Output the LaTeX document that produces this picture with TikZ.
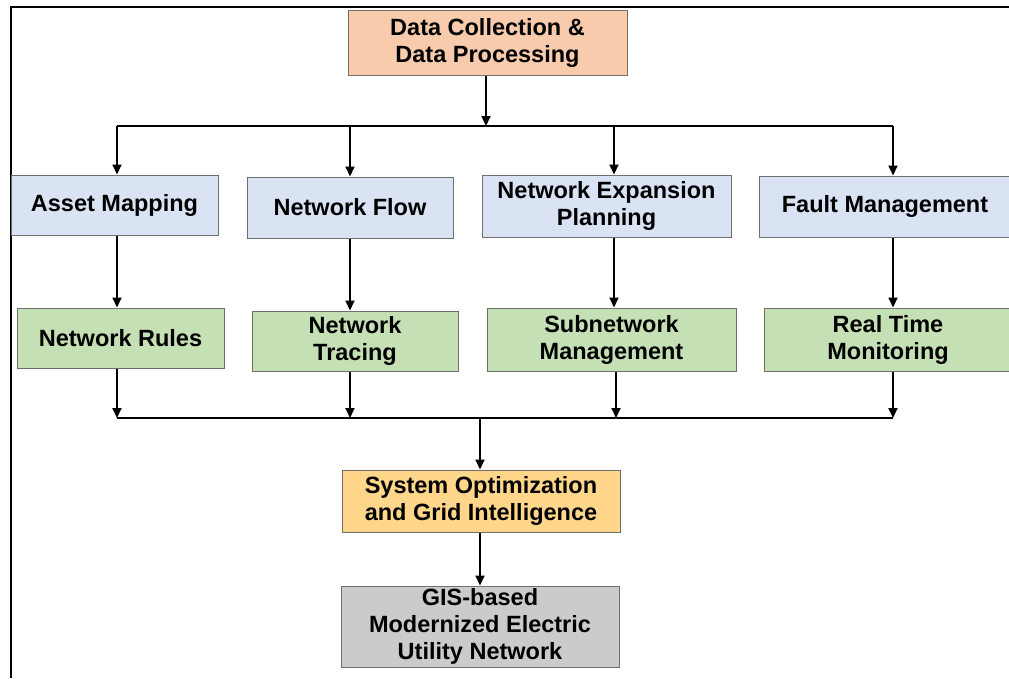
\documentclass[tikz,border=0pt]{standalone}
\usepackage{fontspec}
\setmainfont{Liberation Sans}
\usetikzlibrary{arrows.meta}
\definecolor{peach}{HTML}{F8CBAD}
\definecolor{paleblue}{HTML}{DAE3F3}
\definecolor{palegreen}{HTML}{C5E0B4}
\definecolor{goldbox}{HTML}{FFD68A}
\definecolor{greybox}{HTML}{CBCBCB}
\definecolor{edge}{HTML}{6F6F6F}
\tikzset{
  box/.style={draw=edge, line width=1pt, inner sep=0pt, align=center,
    font=\fontsize{23.5}{27}\selectfont\bfseries},
  arr/.style={line width=2pt, -{Triangle[length=10pt,width=9pt]}},
  bus/.style={line width=2pt},
  frame/.style={line width=2pt}
}
\begin{document}
\begin{tikzpicture}[x=1pt,y=-1pt]
\useasboundingbox (0,0) rectangle (1009,678);
% partial outer frame
\draw[frame] (11,678) -- (11,7) -- (1015,7);

% boxes
\node[box, fill=peach, minimum width=279pt, minimum height=65pt] (dc) at (487.5,42.5) {Data Collection \&\\Data Processing};

\node[box, fill=paleblue, minimum width=207pt, minimum height=60pt] (am) at (114.5,205) {Asset Mapping};
\node[box, fill=paleblue, minimum width=206pt, minimum height=61pt] (nf) at (350,207.5) {Network Flow};
\node[box, fill=paleblue, minimum width=249pt, minimum height=62pt] (nep) at (606.5,206) {Network Expansion\\Planning};
\node[box, fill=paleblue, minimum width=252pt, minimum height=61pt] (fm) at (885,206.5) {Fault Management};

\node[box, fill=palegreen, minimum width=207pt, minimum height=60pt] (nr) at (120.5,338) {Network Rules};
\node[box, fill=palegreen, minimum width=206pt, minimum height=60pt] (nt) at (355,341) {Network\\Tracing};
\node[box, fill=palegreen, minimum width=249pt, minimum height=63pt] (sm) at (611.5,339.5) {Subnetwork\\Management};
\node[box, fill=palegreen, minimum width=248pt, minimum height=63pt] (rt) at (888,339.5) {Real Time\\Monitoring};

\node[box, fill=goldbox, minimum width=278pt, minimum height=62pt] (so) at (481,501) {System Optimization\\and Grid Intelligence};
\node[box, fill=greybox, minimum width=278pt, minimum height=81pt] (gis) at (480,626.5) {GIS-based\\Modernized Electric\\Utility Network};

% upper distribution bus
\coordinate (b1a) at (117,126);
\coordinate (b1b) at (350,126);
\coordinate (b1c) at (614,126);
\coordinate (b1d) at (893,126);
\coordinate (b1m) at (486,126);
\draw[bus] (b1a) -- (b1d);
\draw[arr] (b1m |- dc.south) -- (b1m);
\draw[arr] (b1a) -- (b1a |- am.north);
\draw[arr] (b1b) -- (b1b |- nf.north);
\draw[arr] (b1c) -- (b1c |- nep.north);
\draw[arr] (b1d) -- (b1d |- fm.north);

% middle links
\draw[arr] (b1a |- am.south) -- (b1a |- nr.north);
\draw[arr] (b1b |- nf.south) -- (b1b |- nt.north);
\draw[arr] (b1c |- nep.south) -- (b1c |- sm.north);
\draw[arr] (b1d |- fm.south) -- (b1d |- rt.north);

% lower collecting bus
\coordinate (b2a) at (117,418);
\coordinate (b2b) at (350,418);
\coordinate (b2c) at (616,418);
\coordinate (b2d) at (893,418);
\coordinate (b2m) at (480,418);
\draw[bus] (b2a) -- (b2d);
\draw[arr] (b2a |- nr.south) -- (b2a);
\draw[arr] (b2b |- nt.south) -- (b2b);
\draw[arr] (b2c |- sm.south) -- (b2c);
\draw[arr] (b2d |- rt.south) -- (b2d);
\draw[arr] (b2m) -- (b2m |- so.north);
\draw[arr] (b2m |- so.south) -- (b2m |- gis.north);
\end{tikzpicture}
\end{document}
